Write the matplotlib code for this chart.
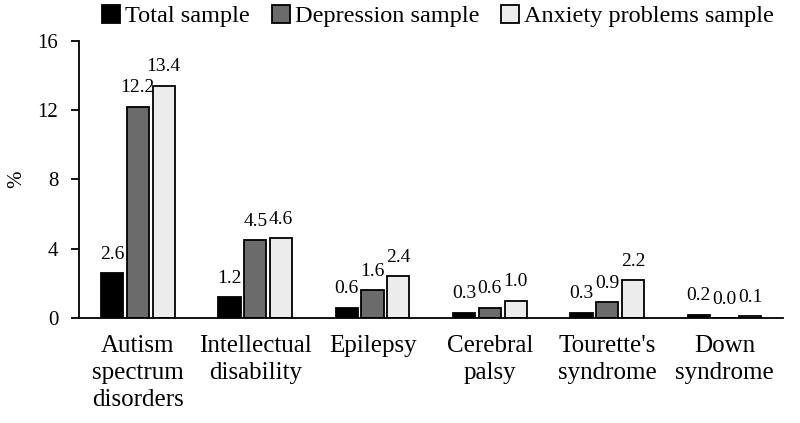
import matplotlib.pyplot as plt
import numpy as np

plt.rcParams['font.family'] = ['Liberation Serif', 'DejaVu Serif']

categories = ['Autism\nspectrum\ndisorders', 'Intellectual\ndisability', 'Epilepsy',
              'Cerebral\npalsy', "Tourette's\nsyndrome", 'Down\nsyndrome']
total = [2.6, 1.2, 0.6, 0.3, 0.3, 0.2]
depression = [12.2, 4.5, 1.6, 0.6, 0.9, 0.0]
anxiety = [13.4, 4.6, 2.4, 1.0, 2.2, 0.1]

series = [('Total sample', total, '#000000'),
          ('Depression sample', depression, '#6b6b6b'),
          ('Anxiety problems sample', anxiety, '#ececec')]

fig = plt.figure(figsize=(8, 4.23), dpi=100)
ax = fig.add_axes([0.099, 0.248, 0.88, 0.656])

x = np.arange(len(categories))
width = 0.19
step = 0.22
for i, (name, vals, col) in enumerate(series):
    pos = x + (i - 1) * step
    bars = ax.bar(pos, vals, width, color=col, edgecolor='black', linewidth=1.3, label=name)
    for b, v in zip(bars, vals):
        ax.text(b.get_x() + b.get_width() / 2, v + 0.6, f'{v:.1f}',
                ha='center', va='bottom', fontsize=14)

ax.set_xlim(-0.5, len(categories) - 0.5)
ax.set_ylim(0, 16)
ax.set_yticks([0, 4, 8, 12, 16])
ax.set_xticks(x)
ax.set_xticklabels(categories, fontsize=18, linespacing=1.3)
ax.tick_params(axis='x', length=0, pad=12)
ax.tick_params(axis='y', labelsize=15, length=6, width=1.3, pad=9)
ax.spines['top'].set_visible(False)
ax.spines['right'].set_visible(False)
ax.spines['left'].set_linewidth(1.3)
ax.spines['bottom'].set_linewidth(1.3)
ax.set_ylabel('%', fontsize=15, labelpad=8)

fig.legend(loc='upper right', bbox_to_anchor=(0.995, 1.04), ncol=3, frameon=False,
           fontsize=17.5, handlelength=0.75, handleheight=0.75, handletextpad=0.2,
           columnspacing=0.9)

fig.savefig('out.png', dpi=100)
